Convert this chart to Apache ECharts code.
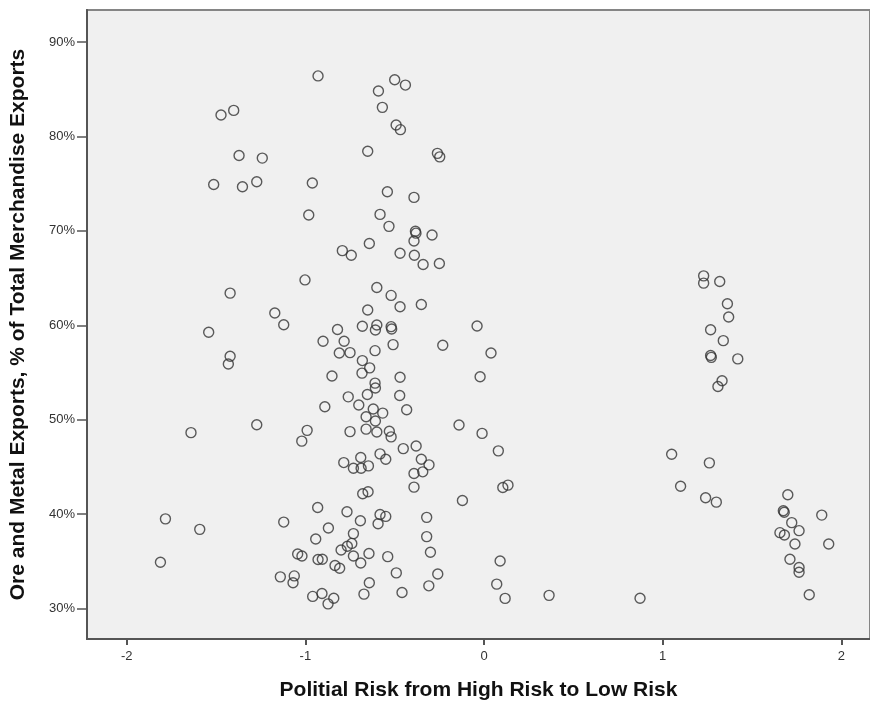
<!DOCTYPE html>
<html>
<head>
<meta charset="utf-8">
<script src="https://cdn.jsdelivr.net/npm/echarts@6/dist/echarts.min.js"></script>
<style>
html,body{margin:0;padding:0;background:#fff;}
#chart{width:870px;height:706px;}
</style>
</head>
<body>
<div id="chart"></div>
<script>
// Political risk (x) vs ore & metal exports % (y)
var riskX = [
-0.929,-1.472,-1.401,-1.371,-1.241,-1.513,-1.352,-1.272,-0.961,-0.981,
-0.793,-1.002,-1.421,-1.171,-1.121,-1.541,-0.820,-0.901,-0.783,-0.810,
-0.851,-0.760,-0.891,-1.421,-1.431,-0.750,-1.640,-1.272,-0.990,-1.020,
-0.785,-0.931,-0.767,-1.783,-1.591,-1.121,-0.871,-0.942,-0.765,-0.740,
-0.800,-1.811,-1.043,-1.019,-0.929,-0.905,-0.834,-0.808,-1.140,-1.062,
-1.069,-0.959,-0.907,-0.841,-0.873,
-0.500,-0.440,-0.591,-0.569,-0.492,-0.468,-0.651,-0.261,-0.248,-0.541,
-0.392,-0.582,-0.532,-0.384,-0.381,-0.291,-0.392,-0.642,-0.743,-0.470,
-0.390,-0.341,-0.250,-0.600,-0.520,-0.470,-0.351,-0.651,-0.681,-0.600,
-0.608,-0.520,-0.517,-0.039,-0.750,-0.610,-0.509,-0.231,0.039,-0.681,
-0.640,-0.683,-0.470,-0.022,-0.610,-0.608,-0.653,-0.472,-0.701,-0.620,
-0.567,-0.433,-0.660,-0.608,-0.660,-0.600,-0.530,-0.520,-0.140,-0.011,
-0.380,-0.452,0.080,-0.582,-0.550,-0.690,-0.731,-0.688,-0.647,-0.351,
-0.308,-0.392,-0.343,-0.392,-0.679,-0.649,-0.121,0.105,0.134,-0.692,
-0.582,-0.550,-0.593,-0.321,-0.731,-0.321,-0.644,-0.731,-0.690,-0.539,
-0.300,0.090,-0.491,-0.259,-0.642,-0.309,0.071,-0.672,-0.459,0.118,
0.364,0.873,
1.229,1.229,1.319,1.362,1.369,1.268,1.339,1.268,1.272,1.420,
1.332,1.309,1.050,1.261,1.100,1.240,1.300,1.700,1.675,1.680,
1.890,1.722,1.763,1.656,1.681,1.740,1.929,1.712,1.763,1.763,
1.820
];
var exportsY = [
86.40,82.26,82.75,77.97,77.70,74.90,74.66,75.20,75.07,71.67,
67.90,64.80,63.40,61.30,60.05,59.26,59.55,58.30,58.30,57.07,
54.62,52.42,51.37,56.72,55.90,48.74,48.63,49.47,48.87,47.73,
45.46,40.71,40.26,39.50,38.39,39.16,38.53,37.37,36.60,36.90,
36.20,34.90,35.78,35.57,35.19,35.22,34.56,34.27,33.36,33.46,
32.73,31.29,31.60,31.10,30.50,
86.00,85.43,84.80,83.07,81.20,80.71,78.42,78.20,77.83,74.14,
73.54,71.74,70.47,69.95,69.75,69.56,68.92,68.65,67.41,67.63,
67.41,66.43,66.54,64.00,63.16,61.96,62.20,61.61,59.89,60.03,
59.50,59.85,59.60,59.92,57.10,57.31,57.95,57.88,57.07,56.26,
55.49,54.93,54.50,54.54,53.87,53.35,52.67,52.56,51.55,51.13,
50.70,51.05,50.32,49.86,49.00,48.70,48.77,48.18,49.44,48.55,
47.22,46.94,46.70,46.38,45.81,45.99,44.86,44.86,45.11,45.81,
45.22,44.30,44.48,42.86,42.16,42.37,41.45,42.82,43.07,39.30,
39.97,39.76,38.99,39.66,37.94,37.62,35.83,35.57,34.83,35.50,
35.96,35.04,33.78,33.67,32.73,32.41,32.59,31.53,31.71,31.08,
31.40,31.10,
65.23,64.46,64.64,62.27,60.87,59.53,58.37,56.79,56.60,56.44,
54.12,53.52,46.34,45.43,42.96,41.73,41.27,42.05,40.36,40.20,
39.90,39.10,38.25,38.04,37.79,36.84,36.84,35.22,34.35,33.85,
31.46
];
var xTicks = [-2, -1, 0, 1, 2];
var yTicks = [30, 40, 50, 60, 70, 80, 90];

var points = [];
for (var i = 0; i < riskX.length; i++) points.push([riskX[i], exportsY[i]]);

var chart = echarts.init(document.getElementById('chart'), null, {renderer: 'canvas'});
var font = 'Liberation Sans, Arial, sans-serif';
chart.setOption({
  animation: false,
  backgroundColor: '#ffffff',
  grid: {
    left: 87, right: 0, top: 10, bottom: 65,
    show: true, backgroundColor: '#f0f0f0', borderColor: '#858585', borderWidth: 2
  },
  xAxis: {
    type: 'value',
    min: -2.222, max: 2.16,
    splitLine: {show: false},
    axisLine: {show: true, onZero: false, lineStyle: {color: '#555', width: 2}},
    axisTick: {show: true, length: 6, customValues: xTicks, lineStyle: {color: '#555', width: 2}},
    axisLabel: {customValues: xTicks, color: '#333', fontSize: 13, fontFamily: font, margin: 11},
    name: 'Politial Risk from High Risk to Low Risk',
    nameLocation: 'middle',
    nameGap: 41,
    nameTextStyle: {fontSize: 21, fontWeight: 'bold', color: '#111', fontFamily: font}
  },
  yAxis: {
    type: 'value',
    min: 26.78, max: 93.38,
    splitLine: {show: false},
    axisLine: {show: true, onZero: false, lineStyle: {color: '#555', width: 2}},
    axisTick: {show: true, length: 10, customValues: yTicks, lineStyle: {color: '#555', width: 1.5}},
    axisLabel: {customValues: yTicks, formatter: function (v) { return v + '%'; },
                color: '#333', fontSize: 13, fontFamily: font, margin: 12},
    name: 'Ore and Metal Exports, % of Total Merchandise Exports',
    nameLocation: 'middle',
    nameGap: 58,
    nameTextStyle: {fontSize: 21, fontWeight: 'bold', color: '#111', fontFamily: font}
  },
  series: [{
    type: 'scatter',
    data: points,
    symbol: 'circle',
    symbolSize: 10,
    itemStyle: {color: 'rgba(0,0,0,0)', borderColor: '#333', borderWidth: 1.4}
  }]
});
</script>
</body>
</html>
